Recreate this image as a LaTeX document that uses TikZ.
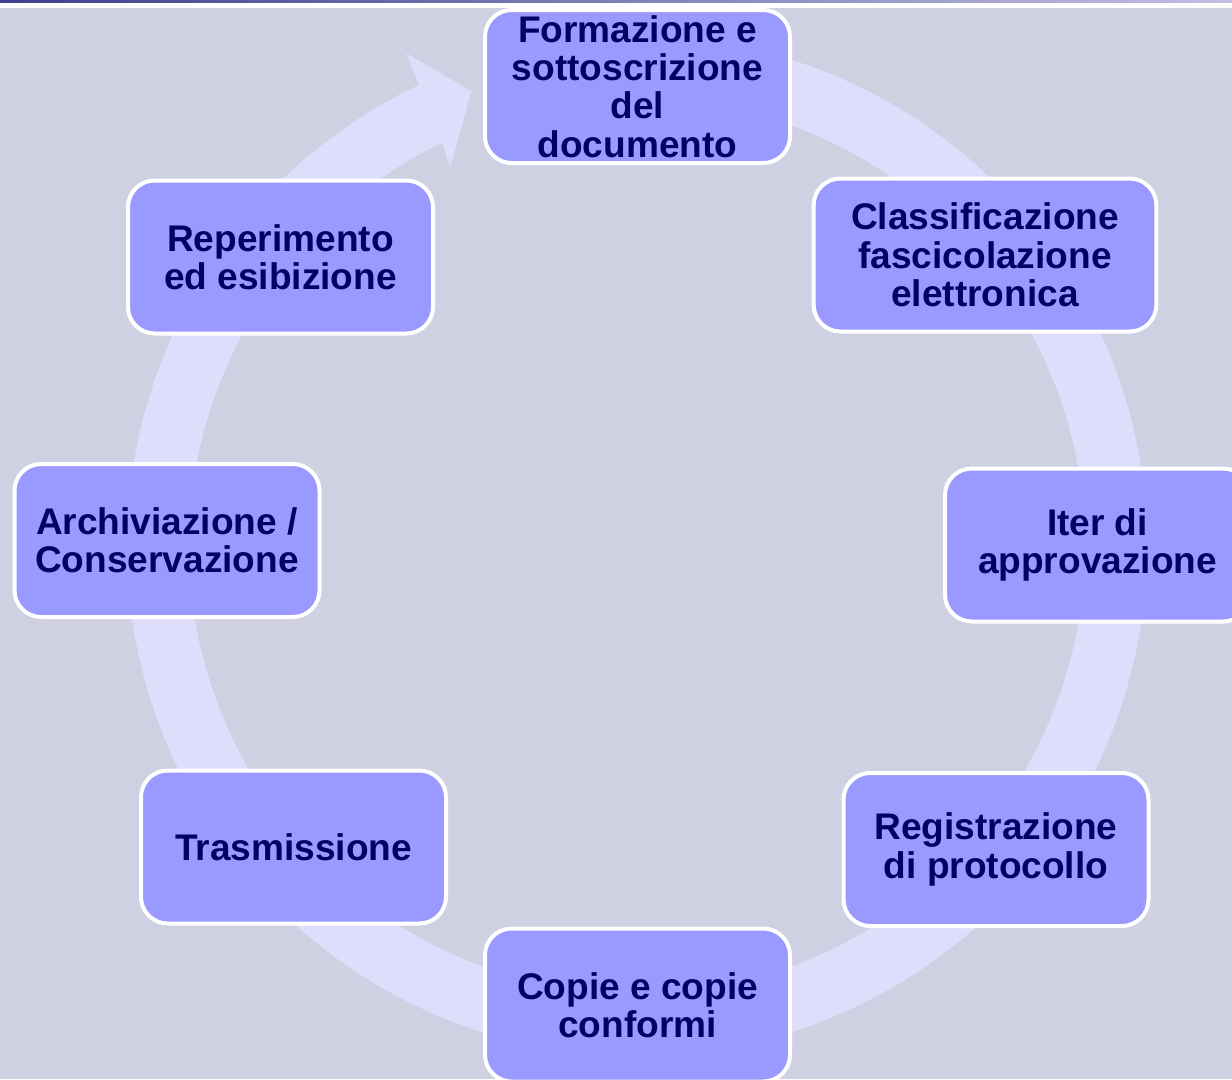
\documentclass[tikz,border=0pt]{standalone}
\usepackage{fontspec}
\setmainfont{Liberation Sans}
\usetikzlibrary{calc}
\definecolor{bgcol}{RGB}{207,208,226}
\definecolor{ringcol}{RGB}{222,222,252}
\definecolor{boxcol}{RGB}{153,153,255}
\definecolor{txtcol}{RGB}{0,0,102}
\definecolor{barL}{RGB}{62,62,140}
\definecolor{barR}{RGB}{192,192,226}

\begin{document}
\begin{tikzpicture}[x=0.75pt, y=-0.75pt,
    phase/.style={draw=white, line width=3pt, fill=boxcol, rounded corners=20pt,
      minimum width=228.75pt, minimum height=114.75pt, inner sep=0pt, align=center,
      text=txtcol, font=\fontsize{27.8}{28.8}\selectfont\bfseries}]
  \useasboundingbox (0,0) rectangle (1232,1079);
  \clip (0,0) rectangle (1232,1079);
  \fill[bgcol] (0,0) rectangle (1232,1079);
  \shade[left color=barL, right color=barR] (0,0) rectangle (1232,3);
  \fill[white] (0,3) rectangle (1232,8);
  % the ring with its arrow head
  \begin{scope}[shift={(637,546)}, x=0.75pt, y=0.75pt]
    \fill[ringcol] (80:510) arc[start angle=80, end angle=-244.7, radius=382.5pt]
      -- (115.1:544) -- (110:484) -- (116.3:422) -- (115.8:448)
      arc[start angle=-244.2, end angle=80, radius=336pt] -- cycle;
  \end{scope}
  % phases
  \node[phase] (p0) at (637.5,86.5) {Formazione e\\sottoscrizione\\del\\documento};
  \node[phase, minimum width=257pt] (p1) at (985,255) {Classificazione\\fascicolazione\\elettronica};
  \node[phase] (p2) at (1097.5,545) {Iter di\\approvazione};
  \node[phase] (p3) at (996,849.5) {Registrazione\\di protocollo};
  \node[phase] (p4) at (637.5,1005) {Copie e copie\\conformi};
  \node[phase] (p5) at (293.5,847) {Trasmissione};
  \node[phase] (p6) at (167,540.5) {Archiviazione /\\Conservazione};
  \node[phase] (p7) at (280.5,257) {Reperimento\\ed esibizione};
\end{tikzpicture}
\end{document}
